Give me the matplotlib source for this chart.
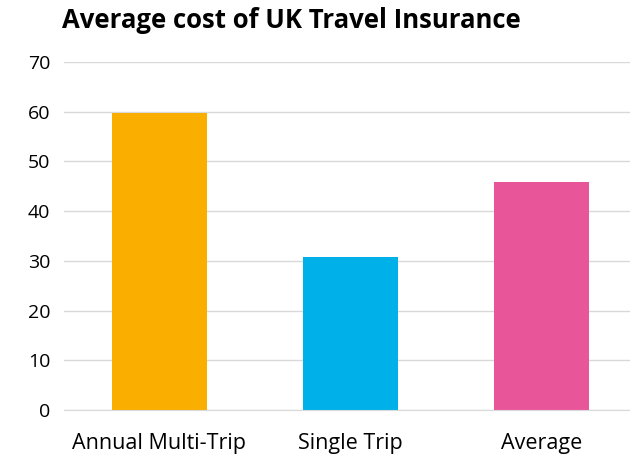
import matplotlib
matplotlib.use("Agg")
import matplotlib.pyplot as plt

categories = ["Annual Multi-Trip", "Single Trip", "Average"]
values = [59.7, 30.8, 45.9]
colors = ["#F9AE00", "#00B0E8", "#E85599"]
yticks = [0, 10, 20, 30, 40, 50, 60, 70]

plt.rcParams['font.family'] = ['Open Sans', 'DejaVu Sans']

fig = plt.figure(figsize=(6.3, 4.54), dpi=100)
ax = fig.add_axes([64/630, 1 - 410/454, 573/630, 348/454])
x = range(len(categories))
ax.bar(x, values, width=0.5, color=colors, zorder=3)
ax.set_ylim(0, 70)
ax.set_xlim(-0.5, 2.5)
ax.set_yticks(yticks)
ax.set_xticks(list(x))
ax.set_xticklabels(categories)
ax.grid(axis='y', color='#D9D9D9', linewidth=1, zorder=0)
for s in ['top', 'right', 'left']:
    ax.spines[s].set_visible(False)
ax.spines['bottom'].set_color('#D9D9D9')
ax.spines['bottom'].set_zorder(4)
ax.tick_params(axis='both', length=0, colors='#000000')
ax.tick_params(axis='x', labelsize=15.5, pad=16.5)
ax.tick_params(axis='y', labelsize=14, pad=10)
fig.text(62/630, 1 - 20/454, "Average cost of UK Travel Insurance", fontsize=18.5,
         fontweight='bold', ha='left', va='center')
fig.savefig("out.png", dpi=100)
